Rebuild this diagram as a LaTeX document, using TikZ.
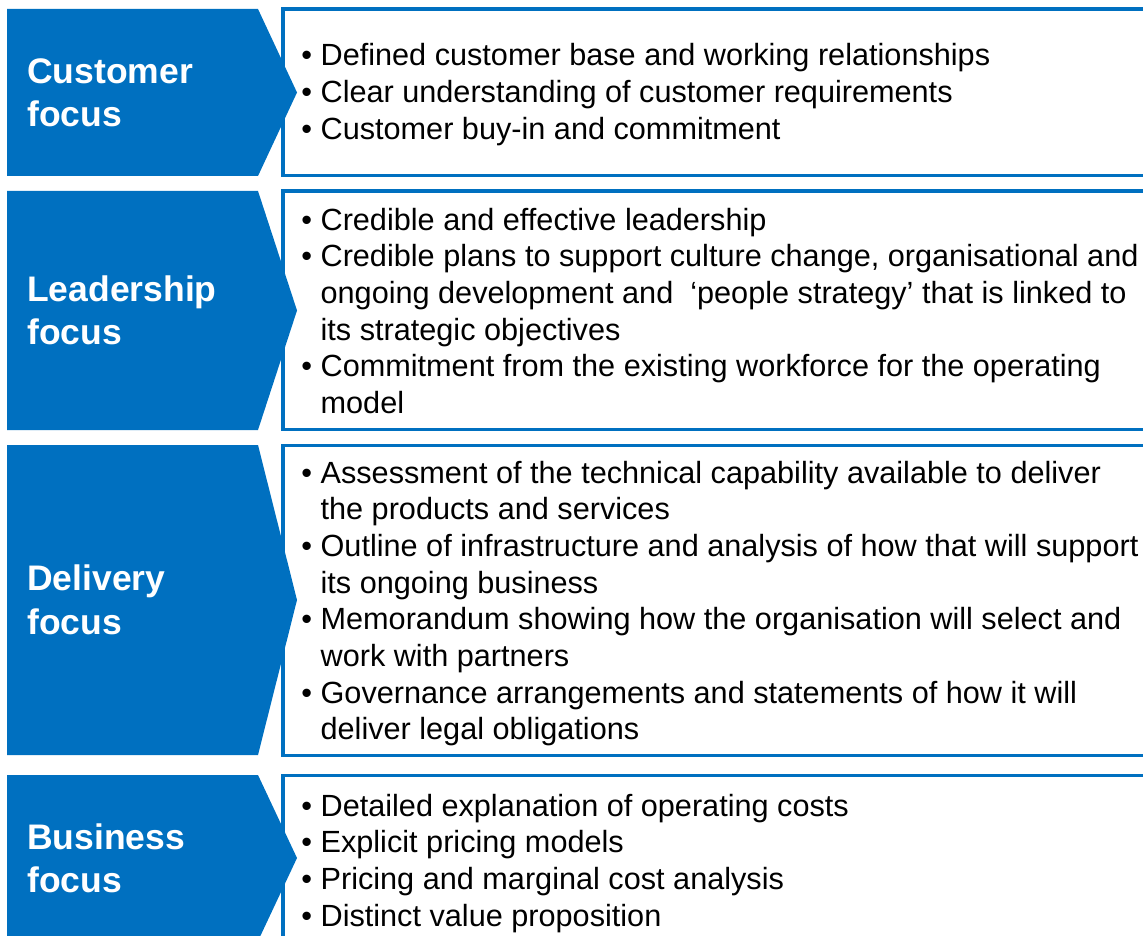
\documentclass[tikz,border=0pt]{standalone}
\usepackage{fontspec}
\setmainfont{Liberation Sans}
\definecolor{fblue}{HTML}{0070C0}
\newcommand\ind{\hphantom{•\ }}
\newcommand\bodytext[1]{\parbox[t]{900pt}{\raggedright\fontsize{30.65}{36.67}\selectfont #1}}
\newcommand\titletext[1]{\parbox[t]{240pt}{\raggedright\fontsize{35.5}{43.3}\selectfont\bfseries #1}}
\begin{document}
\begin{tikzpicture}[x=1pt,y=-1pt,
  chev/.style={fill=fblue,draw=none},
  frame/.style={draw=fblue,line width=3.8pt},
  title/.style={anchor=base west,inner sep=0pt,text=white},
  body/.style={anchor=base west,inner sep=0pt,text=black}]
\useasboundingbox (0,0) rectangle (1143,936);
\clip (0,0) rectangle (1143,936);
% frames
\draw[frame] (283,9) rectangle (1170,175.5);
\draw[frame] (283,191) rectangle (1170,429.5);
\draw[frame] (283,445.5) rectangle (1170,755.5);
\draw[frame] (283,775.5) rectangle (1170,960);
% chevrons
\path[chev] (7,9) -- (258,9) -- (297,92.5) -- (258,176) -- (7,176) -- cycle;
\path[chev] (7,191) -- (258,191) -- (297,310.5) -- (258,430) -- (7,430) -- cycle;
\path[chev] (7,445) -- (258,445) -- (297,600) -- (258,755) -- (7,755) -- cycle;
\path[chev] (7,775) -- (258,775) -- (297,858) -- (258,941) -- (7,941) -- cycle;
% titles
\node[title] (t1) at (27,83.35) {\titletext{Customer\\focus}};
\node[title] (t2) at (27,301.4) {\titletext{Leadership\\focus}};
\node[title] (t3) at (27,590.9) {\titletext{Delivery\\focus}};
\node[title] (t4) at (27,849.2) {\titletext{Business\\focus}};
% bodies
\node[body] (b1) at (301.2,66) {\bodytext{• Defined customer base and working relationships\\
• Clear understanding of customer requirements\\
• Customer buy-in and commitment}};
\node[body] (b2) at (301.2,230) {\bodytext{• Credible and effective leadership\\
• Credible plans to support culture change, organisational and\\
\ind ongoing development and \ ‘people strategy’ that is linked to\\
\ind its strategic objectives\\
• Commitment from the existing workforce for the operating\\
\ind model}};
\node[body] (b3) at (301.2,483.3) {\bodytext{• Assessment of the technical capability available to deliver\\
\ind the products and services\\
• Outline of infrastructure and analysis of how that will support\\
\ind its ongoing business\\
• Memorandum showing how the organisation will select and\\
\ind work with partners\\
• Governance arrangements and statements of how it will\\
\ind deliver legal obligations}};
\node[body] (b4) at (301.2,816) {\bodytext{• Detailed explanation of operating costs\\
• Explicit pricing models\\
• Pricing and marginal cost analysis\\
• Distinct value proposition}};
\end{tikzpicture}
\end{document}
